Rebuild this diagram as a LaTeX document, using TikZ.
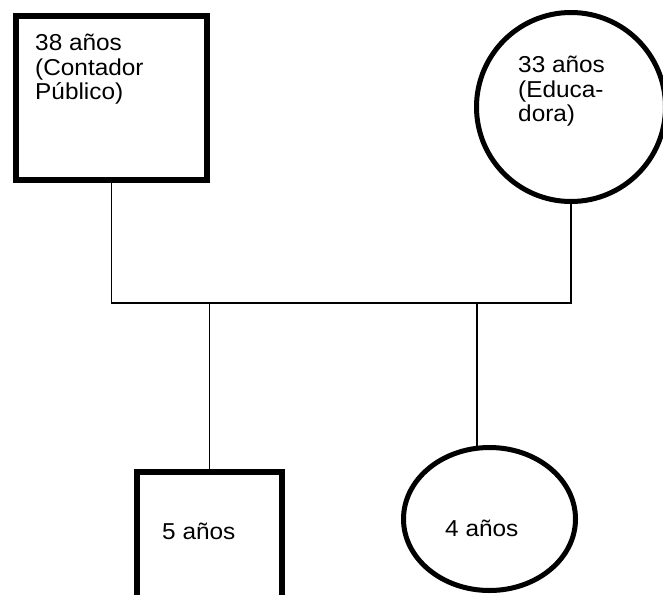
\documentclass[tikz,border=0pt]{standalone}
\usepackage{fontspec}
\setmainfont{Liberation Sans}[FakeStretch=1.06]
\usetikzlibrary{positioning, shapes.geometric}

\tikzset{
  male/.style={draw, rectangle, line width=6pt, inner sep=0pt, outer sep=0pt},
  female/.style={draw, ellipse, line width=5pt, inner sep=0pt, outer sep=0pt},
  link/.style={line width=1.5pt},
  lbl/.style={inner sep=0pt, align=left, font=\fontsize{23}{24.5}\selectfont},
}

\begin{document}
\begin{tikzpicture}[x=1pt, y=1pt]
  \useasboundingbox (0,0) rectangle (663,-594);
  % parents
  \node[male, minimum width=191pt, minimum height=164pt] (father) at (111.5,-98) {};
  \node[female, minimum size=189pt] (mother) at (571,-107) {};
  % children
  \node[male, minimum width=145pt, minimum height=145pt] (son) at (209.5,-544.5) {};
  \node[female, minimum width=172pt, minimum height=143pt] (daughter) at (489.5,-519) {};
  % labels
  \node[lbl, anchor=north west] (fatherlbl) at ([shift={(19pt,-18pt)}]father.north west) {38 años\\(Contador\\Público)};
  \node[lbl, anchor=north west] (motherlbl) at (518,-56) {33 años\\(Educa-\\dora)};
  \node[lbl, anchor=base west] (sonlbl) at (162,-539) {5 años};
  \node[lbl, anchor=base west] (daughterlbl) at (445,-536) {4 años};
  % connectors
  \coordinate (fork) at (0,-303);
  \coordinate (forkR) at (477,-303);
  \draw[link] (father.south) -- (father.south |- fork) -- (mother.south |- fork) -- (mother.south);
  \draw[link] (fork -| son.north) -- (son.north);
  \draw[link] (forkR) -- (forkR |- daughter.north);
\end{tikzpicture}
\end{document}
